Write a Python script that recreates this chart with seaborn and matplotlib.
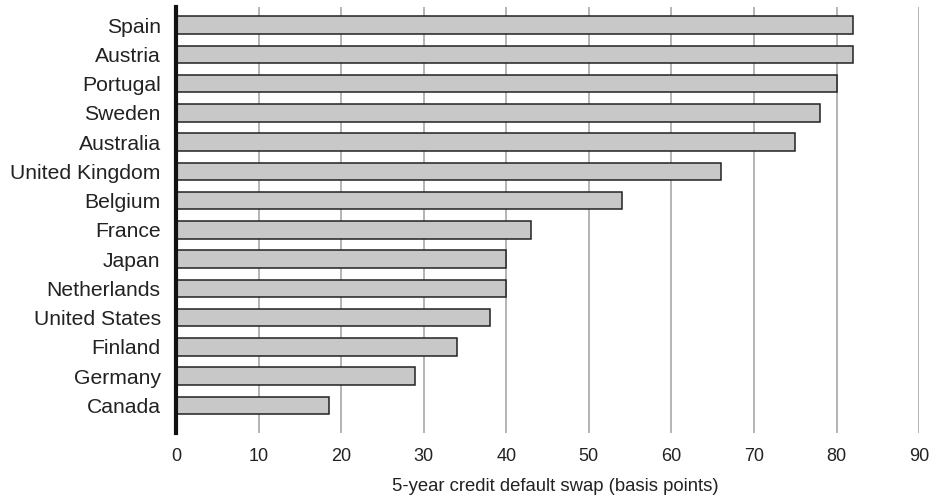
import matplotlib
matplotlib.use("Agg")
import matplotlib.pyplot as plt
import seaborn as sns
import pandas as pd

countries = ["Spain", "Austria", "Portugal", "Sweden", "Australia", "United Kingdom",
             "Belgium", "France", "Japan", "Netherlands", "United States", "Finland",
             "Germany", "Canada"]
cds = [82, 82, 80, 78, 75, 66, 54, 43, 40, 40, 38, 34, 29, 18.5]
xticks = [0, 10, 20, 30, 40, 50, 60, 70, 80, 90]
xlabel = "5-year credit default swap (basis points)"

df = pd.DataFrame({"country": countries, "cds": cds})

sns.set_theme(style="white")
plt.rcParams["font.family"] = ["Liberation Sans", "DejaVu Sans"]

fig = plt.figure(figsize=(9.36, 4.95), dpi=100)
ax = fig.add_axes([0.188, 0.1253, 0.794, 0.8606])

sns.barplot(data=df, x="cds", y="country", orient="h", color="#c8c8c8",
            saturation=1, edgecolor="#222222", linewidth=1.1, width=0.6, ax=ax, zorder=3)

ax.set_xlim(0, 90)
ax.set_ylim(13.94, -0.62)
ax.set_xticks(xticks)
ax.set_xticklabels([str(t) for t in xticks], fontsize=13, color="#222222")
ax.tick_params(axis="x", length=0, pad=11)
ax.tick_params(axis="y", length=0, pad=11, labelsize=15.2, labelcolor="#222222")
ax.xaxis.grid(True, color="#a0a0a0", linewidth=1.1, zorder=0)
ax.yaxis.grid(False)
ax.set_axisbelow(True)
for s in ["top", "right", "bottom"]:
    ax.spines[s].set_visible(False)
ax.spines["left"].set_color("#111111")
ax.spines["left"].set_linewidth(3)
ax.spines["left"].set_zorder(5)
ax.set_ylabel("")
ax.set_xlabel(xlabel, fontsize=13.3, color="#222222", labelpad=9)
ax.xaxis.set_label_coords(0.51, -0.105)

fig.savefig("out.png", dpi=100)
